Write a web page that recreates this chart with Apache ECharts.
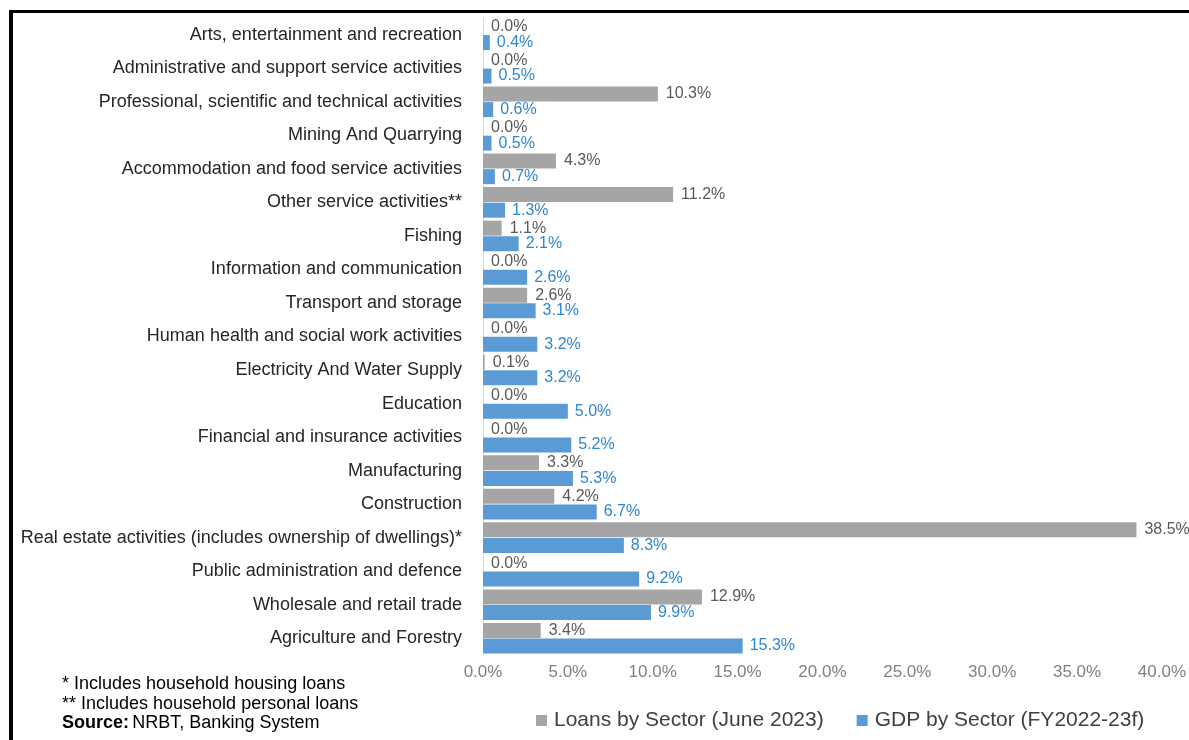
<!DOCTYPE html>
<html>
<head>
<meta charset="utf-8">
<script src="https://cdn.jsdelivr.net/npm/echarts@6/dist/echarts.min.js"></script>
<style>
html,body{margin:0;padding:0;background:#fff;}
#c{width:1189px;height:740px;}
</style>
</head>
<body>
<div id="c"></div>
<script>
const categories = [
  "Arts, entertainment and recreation",
  "Administrative and support service activities",
  "Professional, scientific and technical activities",
  "Mining And Quarrying",
  "Accommodation and food service activities",
  "Other service activities**",
  "Fishing",
  "Information and communication",
  "Transport and storage",
  "Human health and social work activities",
  "Electricity And Water Supply",
  "Education",
  "Financial and insurance activities",
  "Manufacturing",
  "Construction",
  "Real estate activities (includes ownership of dwellings)*",
  "Public administration and defence",
  "Wholesale and retail trade",
  "Agriculture and Forestry"
];
const loansBySector = [0.0, 0.0, 10.3, 0.0, 4.3, 11.2, 1.1, 0.0, 2.6, 0.0, 0.1, 0.0, 0.0, 3.3, 4.2, 38.5, 0.0, 12.9, 3.4];
const gdpBySector = [0.4, 0.5, 0.6, 0.5, 0.7, 1.3, 2.1, 2.6, 3.1, 3.2, 3.2, 5.0, 5.2, 5.3, 6.7, 8.3, 9.2, 9.9, 15.3];
const seriesNames = ["Loans by Sector (June 2023)", "GDP by Sector (FY2022-23f)"];
const footnotes = ["* Includes household housing loans", "** Includes household personal loans"];
const sourceText = "NRBT, Banking System";

const FONT = "Arial, 'Liberation Sans', sans-serif";
const chart = echarts.init(document.getElementById('c'));
const pct = v => Number(v).toFixed(1) + '%';

chart.setOption({
  animation: false,
  backgroundColor: '#ffffff',
  textStyle: { fontFamily: FONT },
  grid: { left: 483, right: 27, top: 18, bottom: 85, containLabel: false },
  legend: {
    data: seriesNames,
    left: 531,
    top: 705,
    icon: 'rect',
    itemWidth: 11,
    itemHeight: 11,
    itemGap: 33,
    textStyle: { fontSize: 21, color: '#404040', fontFamily: FONT, padding: [0, 0, 0, 2] }
  },
  xAxis: {
    type: 'value',
    min: 0, max: 40, interval: 5,
    axisLine: { show: false },
    axisTick: { show: false },
    splitLine: { show: false },
    axisLabel: { formatter: pct, color: '#808080', fontSize: 17, margin: 9, fontFamily: FONT }
  },
  yAxis: {
    type: 'category',
    inverse: true,
    data: categories,
    axisLine: { show: true, lineStyle: { color: '#D9D9D9', width: 1 } },
    axisTick: { show: false },
    axisLabel: { color: '#262626', fontSize: 18, margin: 21, fontFamily: FONT }
  },
  series: [
    {
      name: seriesNames[0],
      type: 'bar',
      data: loansBySector,
      barWidth: 15,
      barGap: '4%',
      itemStyle: { color: '#A5A5A5' },
      label: { show: true, position: 'right', distance: 8, formatter: p => pct(p.value), color: '#595959', fontSize: 16, fontFamily: FONT }
    },
    {
      name: seriesNames[1],
      type: 'bar',
      data: gdpBySector,
      barWidth: 15,
      barGap: '4%',
      itemStyle: { color: '#5B9BD5' },
      label: { show: true, position: 'right', distance: 7, formatter: p => pct(p.value), color: '#2E86D2', fontSize: 16, fontFamily: FONT }
    }
  ],
  graphic: [
    { type: 'rect', shape: { x: 9, y: 10, width: 4, height: 730 }, style: { fill: '#000' } },
    { type: 'rect', shape: { x: 9, y: 10, width: 1180, height: 3 }, style: { fill: '#000' } },
    { type: 'text', left: 62, top: 675, style: { text: footnotes[0], font: '18px ' + FONT, fill: '#000' } },
    { type: 'text', left: 62, top: 695, style: { text: footnotes[1], font: '18px ' + FONT, fill: '#000' } },
    { type: 'text', left: 62, top: 714, style: {
        text: '{b|Source:} {n|' + sourceText + '}',
        rich: {
          b: { fontWeight: 'bold', fontSize: 18, fontFamily: FONT, fill: '#000', color: '#000' },
          n: { fontSize: 18, fontFamily: FONT, fill: '#000', color: '#000' }
        }
      } }
  ]
});
</script>
</body>
</html>
